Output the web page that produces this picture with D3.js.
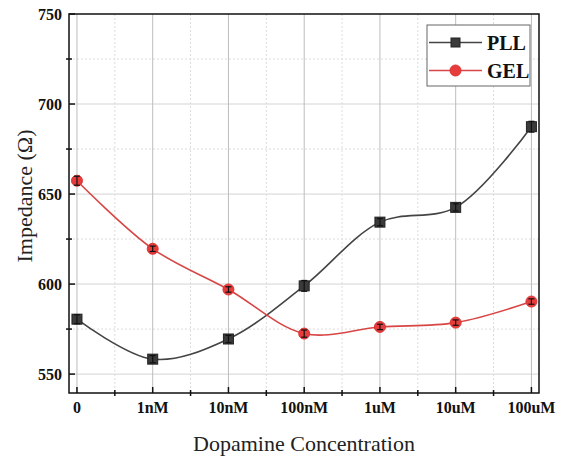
<!DOCTYPE html>
<html>
<head>
<meta charset="utf-8">
<style>
body { margin: 0; background: #fff; }
svg { display: block; }
.tick-label { font-family: "Liberation Serif", "DejaVu Serif", serif; font-weight: bold; font-size: 16px; fill: #111; }
.axis-title { font-family: "Liberation Serif", "DejaVu Serif", serif; font-size: 22px; fill: #222; }
.legend-text { font-family: "Liberation Serif", "DejaVu Serif", serif; font-weight: bold; font-size: 20px; fill: #111; }
</style>
</head>
<body>
<svg id="chart" width="564" height="461"></svg>
<script src="https://cdn.jsdelivr.net/npm/d3@7"></script>
<script>
// data
var categories = ["0", "1nM", "10nM", "100nM", "1uM", "10uM", "100uM"];
var pllValues = [580.5, 558.3, 569.5, 599.0, 634.4, 642.6, 687.4];
var pllErrors = [2.5, 2, 2, 3, 2, 2, 3];
var gelValues = [657.4, 619.6, 597.0, 572.5, 576.2, 578.6, 590.3];
var gelErrors = [2.5, 1.5, 1.5, 2, 1.5, 1.5, 1.5];
var yTicks = [550, 600, 650, 700, 750];
var yMinor = [575, 625, 675, 725];

var svg = d3.select("#chart");
var pLeft = 69, pRight = 539, pTop = 14, pBottom = 393;

var x = d3.scaleLinear().domain([-0.105, 6.1]).range([pLeft, pRight]);
var y = d3.scaleLinear().domain([539.5, 750]).range([pBottom, pTop]);

// grid
var grid = svg.append("g");
grid.selectAll(".hg").data(yTicks.slice(0, 4)).enter().append("line")
  .attr("x1", pLeft).attr("x2", pRight)
  .attr("y1", function(d) { return y(d); }).attr("y2", function(d) { return y(d); })
  .attr("stroke", "#d4d4d4").attr("stroke-width", 1);
grid.selectAll(".hm").data(yMinor).enter().append("line")
  .attr("x1", pLeft).attr("x2", pRight)
  .attr("y1", function(d) { return y(d); }).attr("y2", function(d) { return y(d); })
  .attr("stroke", "#dcdcdc").attr("stroke-width", 1).attr("stroke-dasharray", "2,2");
grid.selectAll(".vg").data(categories).enter().append("line")
  .attr("x1", function(d, i) { return x(i); }).attr("x2", function(d, i) { return x(i); })
  .attr("y1", pTop).attr("y2", pBottom)
  .attr("stroke", "#bdbdbd").attr("stroke-width", 1);
grid.selectAll(".vm").data(d3.range(0.5, 6, 1)).enter().append("line")
  .attr("x1", function(d) { return x(d); }).attr("x2", function(d) { return x(d); })
  .attr("y1", pTop).attr("y2", pBottom)
  .attr("stroke", "#dcdcdc").attr("stroke-width", 1).attr("stroke-dasharray", "2,2");

// frame
svg.append("rect").attr("x", pLeft).attr("y", pTop)
  .attr("width", pRight - pLeft).attr("height", pBottom - pTop)
  .attr("fill", "none").attr("stroke", "#111").attr("stroke-width", 1.5);

// ticks
var ticks = svg.append("g").attr("stroke", "#111").attr("stroke-width", 1.5);
yTicks.forEach(function(d) {
  ticks.append("line").attr("x1", pLeft).attr("x2", pLeft + 6).attr("y1", y(d)).attr("y2", y(d));
});
yMinor.forEach(function(d) {
  ticks.append("line").attr("x1", pLeft - 3).attr("x2", pLeft + 3).attr("y1", y(d)).attr("y2", y(d));
});
categories.forEach(function(d, i) {
  ticks.append("line").attr("x1", x(i)).attr("x2", x(i)).attr("y1", pBottom).attr("y2", pBottom - 6);
});
d3.range(0.5, 6, 1).forEach(function(d) {
  ticks.append("line").attr("x1", x(d)).attr("x2", x(d)).attr("y1", pBottom - 3).attr("y2", pBottom + 3);
});

// tick labels
svg.selectAll(".ylab").data(yTicks).enter().append("text")
  .attr("class", "tick-label")
  .attr("x", pLeft - 7).attr("y", function(d) { return y(d); })
  .attr("dy", "0.35em").attr("text-anchor", "end")
  .text(function(d) { return d; });
svg.selectAll(".xlab").data(categories).enter().append("text")
  .attr("class", "tick-label")
  .attr("x", function(d, i) { return x(i); }).attr("y", 407)
  .attr("dy", "0.35em").attr("text-anchor", "middle")
  .text(function(d) { return d; });

// axis titles
svg.append("text").attr("class", "axis-title")
  .attr("transform", "translate(32,196) rotate(-90)")
  .attr("text-anchor", "middle").text("Impedance (\u03A9)");
svg.append("text").attr("class", "axis-title")
  .attr("x", 304).attr("y", 451)
  .attr("text-anchor", "middle").text("Dopamine Concentration");

// series
var line = d3.line().curve(d3.curveCatmullRom.alpha(0.5))
  .x(function(d, i) { return x(i); }).y(function(d) { return y(d); });

function drawSeries(vals, errs, color, fill, shape) {
  svg.append("path").datum(vals).attr("d", line)
    .attr("fill", "none").attr("stroke", color).attr("stroke-width", 1.6);
  var g = svg.append("g");
  vals.forEach(function(v, i) {
    if (shape === "square") {
      g.append("rect").attr("x", x(i) - 5).attr("y", y(v) - 5)
        .attr("width", 10).attr("height", 10)
        .attr("fill", fill).attr("stroke", "#222").attr("stroke-width", 1);
    } else {
      g.append("circle").attr("cx", x(i)).attr("cy", y(v)).attr("r", 5.5)
        .attr("fill", fill).attr("stroke", "#d33").attr("stroke-width", 1);
    }
    var e = errs[i];
    g.append("line").attr("x1", x(i)).attr("x2", x(i)).attr("y1", y(v - e)).attr("y2", y(v + e))
      .attr("stroke", "#111").attr("stroke-width", 1.2);
    [v - e, v + e].forEach(function(c) {
      g.append("line").attr("x1", x(i) - 3).attr("x2", x(i) + 3).attr("y1", y(c)).attr("y2", y(c))
        .attr("stroke", "#111").attr("stroke-width", 1.2);
    });
  });
}

drawSeries(pllValues, pllErrors, "#444", "#3a3a3a", "square");
drawSeries(gelValues, gelErrors, "#d84545", "#e63c3c", "circle");

// legend
var lg = svg.append("g");
lg.append("rect").attr("x", 427).attr("y", 25).attr("width", 103).attr("height", 61)
  .attr("fill", "#fff").attr("stroke", "#666").attr("stroke-width", 1);
lg.append("line").attr("x1", 429).attr("x2", 482).attr("y1", 42.5).attr("y2", 42.5)
  .attr("stroke", "#444").attr("stroke-width", 1.6);
lg.append("rect").attr("x", 451).attr("y", 38).attr("width", 9).attr("height", 9)
  .attr("fill", "#3a3a3a").attr("stroke", "#222");
lg.append("text").attr("class", "legend-text").attr("x", 487).attr("y", 42.5).attr("dy", "0.35em").text("PLL");
lg.append("line").attr("x1", 429).attr("x2", 482).attr("y1", 70.5).attr("y2", 70.5)
  .attr("stroke", "#d84545").attr("stroke-width", 1.6);
lg.append("circle").attr("cx", 455.5).attr("cy", 70.5).attr("r", 5.5)
  .attr("fill", "#e63c3c").attr("stroke", "#d33");
lg.append("text").attr("class", "legend-text").attr("x", 487).attr("y", 70.5).attr("dy", "0.35em").text("GEL");
</script>
</body>
</html>
